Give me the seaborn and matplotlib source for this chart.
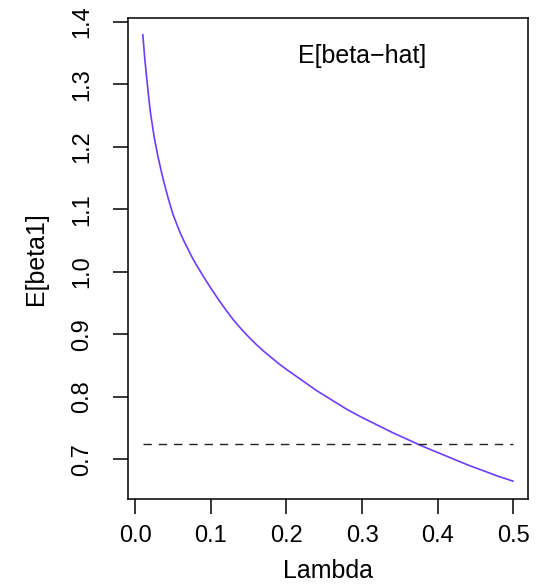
import seaborn as sns
import matplotlib.pyplot as plt
import pandas as pd

# значения
lam = [0.01, 0.0125, 0.015, 0.0175, 0.02, 0.025, 0.03, 0.035, 0.04, 0.045, 0.05,
       0.055, 0.06, 0.065, 0.07, 0.075, 0.08, 0.09, 0.10, 0.11, 0.12, 0.13, 0.14,
       0.15, 0.16, 0.17, 0.18, 0.19, 0.20, 0.22, 0.24, 0.26, 0.28, 0.30, 0.32,
       0.34, 0.36, 0.38, 0.40, 0.42, 0.44, 0.46, 0.48, 0.50]
e_beta = [1.380, 1.343, 1.312, 1.283, 1.256, 1.216, 1.185, 1.158, 1.134, 1.112, 1.092,
          1.076, 1.061, 1.048, 1.036, 1.024, 1.013, 0.993, 0.974, 0.956, 0.939, 0.923, 0.909,
          0.896, 0.884, 0.873, 0.863, 0.853, 0.844, 0.827, 0.810, 0.795, 0.780, 0.767, 0.755,
          0.743, 0.732, 0.721, 0.711, 0.701, 0.691, 0.682, 0.673, 0.665]
true_beta = 0.725

x_ticks = [0.0, 0.1, 0.2, 0.3, 0.4, 0.5]
y_ticks = [0.7, 0.8, 0.9, 1.0, 1.1, 1.2, 1.3, 1.4]

df = pd.DataFrame({"Lambda": lam, "E[beta1]": e_beta})
df["true"] = true_beta

sns.set_style("ticks")
plt.rcParams["font.family"] = ["Liberation Sans", "DejaVu Sans"]
plt.rcParams["text.color"] = "black"
plt.rcParams["axes.labelcolor"] = "black"
plt.rcParams["xtick.color"] = "black"
plt.rcParams["ytick.color"] = "black"

fig = plt.figure(figsize=(5.38, 5.87), dpi=100)
ax = fig.add_axes([0.2379, 0.1499, 0.7435, 0.8194])

sns.lineplot(data=df, x="Lambda", y="E[beta1]", color="#6e3cff", lw=1.2, ax=ax)
sns.lineplot(data=df, x="Lambda", y="true", color="#222222", lw=1.0,
             linestyle=(0, (6, 5)), ax=ax)

ax.set_xlim(-0.0096, 0.5196)
ax.set_ylim(0.6365, 1.4064)
ax.set_xticks(x_ticks)
ax.set_xticklabels([f"{v:.1f}" for v in x_ticks], fontsize=17)
ax.set_yticks(y_ticks)
ax.set_yticklabels([f"{v:.1f}" for v in y_ticks], fontsize=17, rotation=90, va="center")
ax.tick_params(direction="out", length=11, width=1.1)
ax.tick_params(axis="x", pad=8)
ax.tick_params(axis="y", pad=14)
ax.set_xlabel("Lambda", fontsize=18)
ax.set_ylabel("E[beta1]", fontsize=18)
ax.xaxis.set_label_coords(0.5, -0.125)
ax.yaxis.set_label_coords(-0.2, 0.5)
for s in ax.spines.values():
    s.set_visible(True)
    s.set_linewidth(1.1)
    s.set_color("black")

ax.text(0.585, 0.921, "E[beta\u2212hat]", transform=ax.transAxes, fontsize=18,
        ha="center", va="center")

fig.savefig("out.png", dpi=100)
